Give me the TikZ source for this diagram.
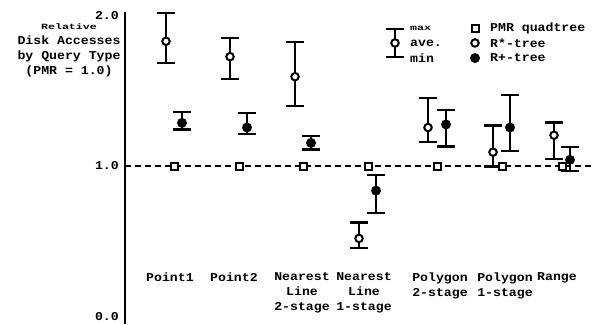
\documentclass[tikz,border=0pt]{standalone}
\usepackage{fontspec}
\setmonofont[FakeStretch=1.1]{Liberation Mono}
\newfontfamily\tinymono[FakeStretch=1.45]{Liberation Mono}
\usetikzlibrary{arrows.meta}

\begin{document}
\begin{tikzpicture}[x=1pt, y=154pt]
        \tikzstyle{every node}=[font=\ttfamily\bfseries\fontsize{12}{15}\selectfont, inner sep=0pt]
        \tikzstyle{errbar}=[line width=2.2pt, {Bar[width=18pt]}-{Bar[width=18pt]}]
        \tikzstyle{pmr}=[draw, fill=white, line width=2pt, minimum size=7pt]
        \tikzstyle{rstar}=[circle, draw, fill=white, line width=2pt, minimum size=7.5pt]
        \tikzstyle{rplus}=[circle, fill, minimum size=10pt]
        \tikzstyle{small}=[font=\tinymono\bfseries\fontsize{8}{10}\selectfont]

        \useasboundingbox (0,-0.026) rectangle (594,2.078);

        % axis and reference line
        \coordinate (ax-top) at (125,2);
        \coordinate (ax-bot) at (125,-0.026);
        \coordinate (ref-l) at (125,1);
        \coordinate (ref-r) at (594,1);
        \draw[line width=2.6pt] (ax-top) -- (ax-bot);
        \draw[dash pattern=on 6pt off 4pt, line width=1.3pt] (ref-l) -- (ref-r);

        \node[anchor=east] (t2) at (119,1.98) {2.0};
        \node[anchor=east] (t1) at (119,1) {1.0};
        \node[anchor=east] (t0) at (119,0.02) {0.0};
        \node[align=center] (ytitle) at (69,1.75)
            {{\small\tinymono\fontsize{8}{10}\selectfont Relative}\\Disk Accesses\\by Query Type\\(PMR = 1.0)};

        % bars
        \foreach \n/\s/\x/\lo/\av/\hi in {
            p1o/rstar/166/1.66/1.81/2.00, p1b/rplus/182/1.23/1.28/1.36,
            p2o/rstar/230/1.56/1.71/1.84, p2b/rplus/247/1.20/1.25/1.35,
            n2o/rstar/295/1.38/1.58/1.81, n2b/rplus/311/1.10/1.15/1.20,
            n1o/rstar/359/0.46/0.53/0.64, n1b/rplus/376/0.69/0.84/0.95,
            g2o/rstar/428/1.15/1.25/1.45, g2b/rplus/446/1.12/1.27/1.37,
            g1o/rstar/493/0.99/1.09/1.27, g1b/rplus/510/1.09/1.25/1.47,
            ro/rstar/554/1.04/1.20/1.29, rb/rplus/570/0.96/1.04/1.13} {
            \coordinate (\n-lo) at (\x,\lo);
            \coordinate (\n-hi) at (\x,\hi);
            \draw[errbar] (\n-lo) -- (\n-hi);
            \node[\s] (\n-av) at (\x,\av) {};
        }
        \foreach \n/\x in {p1/174, p2/239, n2/303, n1/368, g2/437, g1/502, r/562}
            \node[pmr] (\n-pmr) at (\x,1) {};

        % query types
        \foreach \n/\x/\t in {p1/170/Point1, p2/234/Point2, n2/302/{Nearest\\Line\\2-stage},
            n1/364/{Nearest\\Line\\1-stage}, g2/440/{Polygon\\2-stage}, g1/505/{Polygon\\1-stage}, r/557/Range}
            \node[align=center, anchor=north] (\n-lab) at (\x,0.31) {\t};

        % key
        \coordinate (key-hi) at (395,1.896);
        \coordinate (key-lo) at (395,1.701);
        \draw[errbar] (key-lo) -- (key-hi);
        \node[rstar] (key-av) at (395,1.799) {};
        \node[small, anchor=west] (key-max) at (410,1.896) {max};
        \node[anchor=west] (key-ave) at (410,1.799) {ave.};
        \node[anchor=west] (key-min) at (410,1.701) {min};
        \node[pmr] (key-pmr) at (475,1.896) {};
        \node[rstar] (key-rstar) at (475,1.799) {};
        \node[rplus] (key-rplus) at (475,1.701) {};
        \node[anchor=west] (lab-pmr) at (490,1.896) {PMR quadtree};
        \node[anchor=west] (lab-rstar) at (490,1.799) {R*-tree};
        \node[anchor=west] (lab-rplus) at (490,1.701) {R+-tree};
\end{tikzpicture}
\end{document}
